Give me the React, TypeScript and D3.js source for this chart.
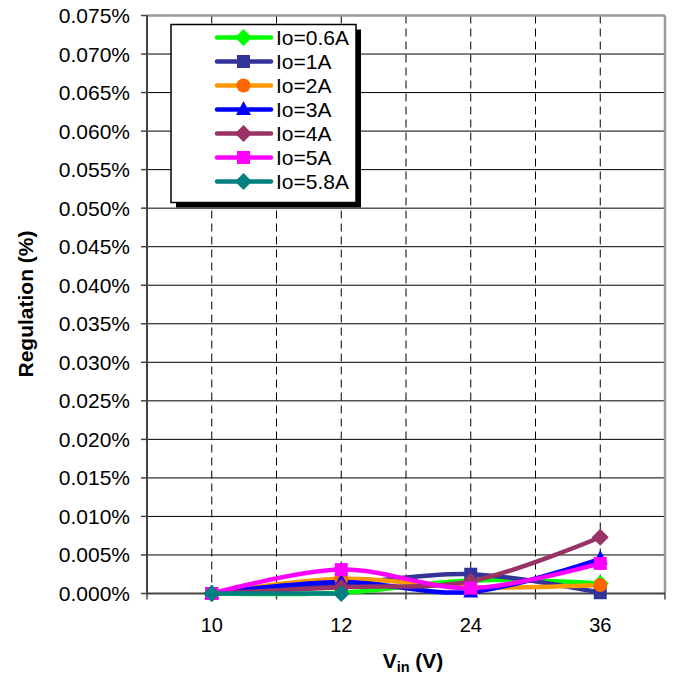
import React from "react";
import * as d3 from "d3";

const categories = ["10", "12", "24", "36"];
const yTicks = [0, 0.005, 0.01, 0.015, 0.02, 0.025, 0.03, 0.035, 0.04, 0.045, 0.05, 0.055, 0.06, 0.065, 0.07, 0.075];

const seriesNames = ["Io=0.6A", "Io=1A", "Io=2A", "Io=3A", "Io=4A", "Io=5A", "Io=5.8A"];
const io06 = [0, 0.0001, 0.0017, 0.0013];
const io1 = [0, 0.0012, 0.0025, 0.0001];
const io2 = [0, 0.0019, 0.0008, 0.0011];
const io3 = [0, 0.0015, 0.0002, 0.0045];
const io4 = [0, 0.0008, 0.0016, 0.0073];
const io5 = [0, 0.0031, 0.0007, 0.0039];
const io58 = [0, 0, null, null];

const seriesValues: (number | null)[][] = [io06, io1, io2, io3, io4, io5, io58];
const lineColors = ["#00FF00", "#333399", "#FF9900", "#0000FF", "#993366", "#FF00FF", "#008080"];
const markerColors = ["#00FF00", "#333399", "#FF6600", "#0000FF", "#993366", "#FF00FF", "#008080"];
const markerShapes = ["diamond", "square", "circle", "triangle", "diamond", "square", "diamond"];

const W = 673, H = 675;
const M = { left: 147, right: 665, top: 15.5, bottom: 593.5 };

function Marker({ shape, x, y, color }: { shape: string; x: number; y: number; color: string }) {
  if (shape === "square") return <rect x={x - 6.5} y={y - 6.5} width={13} height={13} fill={color} />;
  if (shape === "circle") return <circle cx={x} cy={y} r={7} fill={color} />;
  if (shape === "triangle") return <path d={`M${x},${y - 8.5}L${x + 7.5},${y + 5.5}L${x - 7.5},${y + 5.5}Z`} fill={color} />;
  return <path d={`M${x},${y - 8.5}L${x + 8.5},${y}L${x},${y + 8.5}L${x - 8.5},${y}Z`} fill={color} />;
}

export default function App() {
  const x = d3.scaleBand<string>().domain(categories).range([M.left, M.right]);
  const y = d3.scaleLinear().domain([0, 0.075]).range([M.bottom, M.top]);
  const cx = (c: string) => (x(c) as number) + x.bandwidth() / 2;
  const boundaries = [...categories.map((c) => x(c) as number), M.right];

  const line = d3
    .line<[string, number | null]>()
    .defined((d) => d[1] != null)
    .x((d) => cx(d[0]))
    .y((d) => y(d[1] as number))
    .curve(d3.curveCatmullRom.alpha(0.5));

  const font = "Arial, 'Liberation Sans', sans-serif";
  const legX = 171, legY = 24.5, legW = 185, legH = 178;

  return (
    <svg width={W} height={H} style={{ position: "absolute", left: 0, top: 0, background: "#fff" }} fontFamily={font}>
      {/* horizontal gridlines */}
      {yTicks.slice(1, -1).map((t) => (
        <line key={"h" + t} x1={M.left} x2={M.right} y1={y(t)} y2={y(t)} stroke="#000" strokeWidth={1} />
      ))}
      {/* vertical dashed gridlines (centers and boundaries) */}
      {categories.map((c) => (
        <line key={"vc" + c} x1={cx(c)} x2={cx(c)} y1={M.top} y2={M.bottom} stroke="#000" strokeWidth={1} strokeDasharray="8,5" />
      ))}
      {boundaries.slice(1, -1).map((b) => (
        <line key={"vb" + b} x1={b} x2={b} y1={M.top} y2={M.bottom} stroke="#000" strokeWidth={1} strokeDasharray="8,5" />
      ))}
      {/* plot border top/right */}
      <line x1={M.left} x2={M.right} y1={M.top} y2={M.top} stroke="#999" strokeWidth={2.5} />
      <line x1={M.right} x2={M.right} y1={M.top} y2={M.bottom} stroke="#999" strokeWidth={2.5} />
      {/* axes */}
      <line x1={M.left} x2={M.left} y1={M.top} y2={M.bottom} stroke="#444" strokeWidth={2} />
      <line x1={M.left} x2={M.right} y1={M.bottom} y2={M.bottom} stroke="#444" strokeWidth={2} />
      {yTicks.map((t) => (
        <g key={"yt" + t}>
          <line x1={M.left - 6} x2={M.left} y1={y(t)} y2={y(t)} stroke="#444" strokeWidth={1.5} />
          <text x={130} y={y(t) + 7.5} textAnchor="end" fontSize={21} fill="#000">
            {t.toFixed(3) + "%"}
          </text>
        </g>
      ))}
      {boundaries.map((b) => (
        <line key={"xt" + b} x1={b} x2={b} y1={M.bottom} y2={M.bottom + 6} stroke="#444" strokeWidth={1.5} />
      ))}
      {categories.map((c) => (
        <text key={"xl" + c} x={cx(c)} y={632} textAnchor="middle" fontSize={20} fill="#000">
          {c}
        </text>
      ))}
      {/* axis titles */}
      <text x={413} y={668} textAnchor="middle" fontSize={21} fontWeight="bold" fill="#000">
        V<tspan fontSize={14.5} dy={4}>in</tspan>
        <tspan dy={-4}> (V)</tspan>
      </text>
      <text transform={`translate(32.5,304) rotate(-90)`} textAnchor="middle" fontSize={21} fontWeight="bold" fill="#000">
        Regulation (%)
      </text>
      {/* series */}
      {seriesValues.map((vals, i) => (
        <path
          key={"l" + i}
          d={line(categories.map((c, j) => [c, vals[j]] as [string, number | null])) || ""}
          fill="none"
          stroke={lineColors[i]}
          strokeWidth={4.5}
          strokeLinejoin="round"
          strokeLinecap="round"
        />
      ))}
      {seriesValues.map((vals, i) =>
        categories.map((c, j) =>
          vals[j] == null ? null : (
            <Marker key={"m" + i + c} shape={markerShapes[i]} x={cx(c)} y={y(vals[j] as number)} color={markerColors[i]} />
          )
        )
      )}
      {/* legend */}
      <rect x={legX + 5} y={legY + 5} width={legW} height={legH} fill="#000" />
      <rect x={legX} y={legY} width={legW} height={legH} fill="#fff" stroke="#000" strokeWidth={1.5} />
      {seriesNames.map((n, i) => {
        const ly = 37.5 + i * 24;
        return (
          <g key={"lg" + i}>
            <line x1={217} x2={271} y1={ly} y2={ly} stroke={lineColors[i]} strokeWidth={4.5} strokeLinecap="round" />
            <Marker shape={markerShapes[i]} x={243.5} y={ly} color={markerColors[i]} />
            <text x={276} y={ly + 7.5} fontSize={21} fill="#000">
              {n}
            </text>
          </g>
        );
      })}
    </svg>
  );
}
